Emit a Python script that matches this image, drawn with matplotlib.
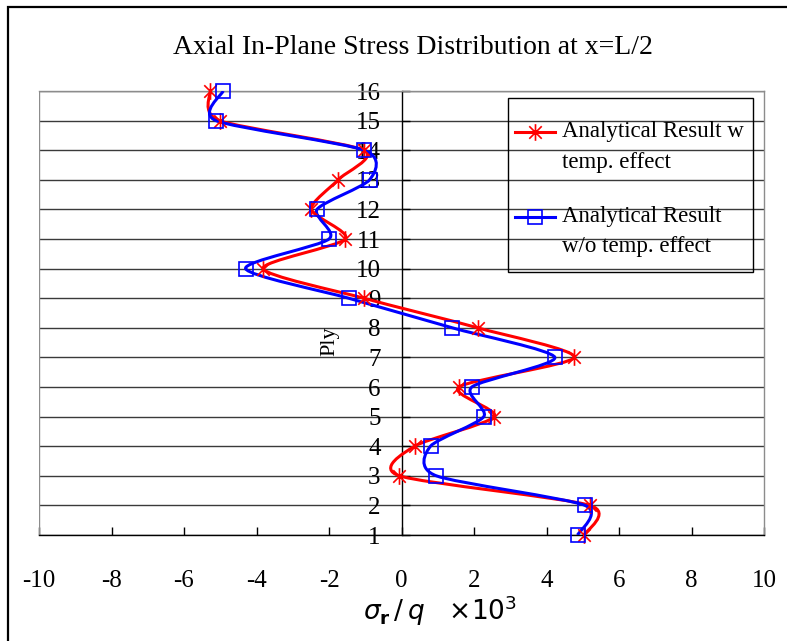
import numpy as np
import matplotlib
matplotlib.use("Agg")
import matplotlib.pyplot as plt
from matplotlib.path import Path
from matplotlib.patches import PathPatch, Rectangle
from matplotlib.lines import Line2D
from matplotlib.legend_handler import HandlerLine2D

plt.rcParams['font.family'] = ['Liberation Serif', 'DejaVu Serif']

# ply number and normalised axial stress sigma_r/q (x10^3)
ply = [16, 15, 14, 13, 12, 11, 10, 9, 8, 7, 6, 5, 4, 3, 2, 1]
with_temp = [-5.28, -5.02, -1.04, -1.75, -2.49, -1.55, -3.82, -1.04,
             2.10, 4.77, 1.58, 2.56, 0.36, -0.06, 5.20, 5.04]
without_temp = [-4.92, -5.12, -1.03, -0.88, -2.33, -2.00, -4.30, -1.46,
                1.40, 4.23, 1.94, 2.27, 0.80, 0.96, 5.06, 4.86]

x_ticks = [-10, -8, -6, -4, -2, 0, 2, 4, 6, 8, 10]
y_ticks = list(range(1, 17))

# asterisk marker: vertical bar plus an X
star = Path([(0, -1), (0, 1), (-0.75, -0.75), (0.75, 0.75), (-0.75, 0.75), (0.75, -0.75)],
            [Path.MOVETO, Path.LINETO, Path.MOVETO, Path.LINETO, Path.MOVETO, Path.LINETO])


def smooth_path(xs, ys, k=8.0):
    # Catmull-Rom style smoothing built from cubic Bezier segments
    p = np.column_stack([xs, ys]).astype(float)
    ext = np.vstack([p[0], p, p[-1]])
    verts = [tuple(p[0])]
    codes = [Path.MOVETO]
    for i in range(len(p) - 1):
        p0, p1, p2, p3 = ext[i], ext[i + 1], ext[i + 2], ext[i + 3]
        c1 = p1 + (p2 - p0) / k
        c2 = p2 - (p3 - p1) / k
        verts += [tuple(c1), tuple(c2), tuple(p2)]
        codes += [Path.CURVE4] * 3
    return Path(verts, codes)


fig = plt.figure(figsize=(7.87, 6.41), dpi=100)
ax = fig.add_axes([39 / 787, 1 - 535 / 641, 725 / 787, 444 / 641])

red = '#FF0000'
blue = '#0000FF'

ax.add_patch(PathPatch(smooth_path(with_temp, ply), fill=False, edgecolor=red, lw=2.2, zorder=3))
ax.plot(with_temp, ply, ls='none', marker=star, ms=12, mec=red, mew=1.2, zorder=5, clip_on=False)
ax.add_patch(PathPatch(smooth_path(without_temp, ply), fill=False, edgecolor=blue, lw=2.2, zorder=4))
ax.plot(without_temp, ply, ls='none', marker='s', ms=9.5, mfc='none', mec=blue, mew=1.2,
        zorder=6, clip_on=False)

ax.set_xlim(-10, 10)
ax.set_ylim(1, 16)

# horizontal gridlines at every ply
for y in y_ticks:
    ax.axhline(y, color='#3a3a3a', lw=1.0, zorder=1)

# y axis sits at x = 0, plot area frame is grey
ax.spines['left'].set_position(('data', 0))
ax.spines['left'].set_color('black')
ax.spines['bottom'].set_color('black')
ax.spines['top'].set_color('#8c8c8c')
ax.spines['right'].set_color('#8c8c8c')
ax.axvline(-10, color='#8c8c8c', lw=1.0, zorder=2)
for s in ax.spines.values():
    s.set_linewidth(1.0)

ax.set_xticks(x_ticks)
ax.set_xticklabels([str(v) for v in x_ticks])
ax.set_yticks(y_ticks)
ax.set_yticklabels([str(v) for v in y_ticks])
ax.tick_params(axis='x', direction='in', length=6, width=1, pad=25, labelsize=18)
ax.tick_params(axis='y', direction='in', length=6, width=1, pad=15, labelsize=18)

ax.text(-1.98, 7.55, 'Ply', rotation=90, fontsize=16, ha='center', va='center')

fig.text(413 / 787, 1 - 47 / 641, 'Axial In-Plane Stress Distribution at x=L/2',
         fontsize=20, ha='center', va='center')
fig.text(440 / 787, 1 - 611 / 641, r'$\sigma_{\mathbf{r}}\,/\,q$   $\times10^3$',
         fontsize=19, ha='center', va='center', family='DejaVu Sans')

h_red = Line2D([], [], color=red, lw=2.2, marker=star, ms=12, mec=red, mew=1.2)
h_blue = Line2D([], [], color=blue, lw=2.2, marker='s', ms=9.5, mfc='none', mec=blue, mew=1.2)


class TopLineHandler(HandlerLine2D):
    # put the sample next to the first text line of a two-line label
    def create_artists(self, legend, orig_handle, xdescent, ydescent, width, height, fontsize, trans):
        arts = super().create_artists(legend, orig_handle, xdescent, ydescent, width, height,
                                      fontsize, trans)
        for a in arts:
            a.set_ydata(np.asarray(a.get_ydata()) + 0.65 * fontsize)
        return arts


# legend frame drawn separately so the padding can differ per side
fig.add_artist(Rectangle((508 / 787, 1 - 272 / 641), 245 / 787, 174 / 641,
                         transform=fig.transFigure, fill=False, edgecolor='black', lw=1.0))
leg = fig.legend([h_red, h_blue],
                 ['Analytical Result w\ntemp. effect', 'Analytical Result\nw/o temp. effect'],
                 loc='upper left', bbox_to_anchor=(515 / 787, 1 - 121 / 641),
                 bbox_transform=fig.transFigure, borderaxespad=0, borderpad=0,
                 fontsize=16.5, frameon=False,
                 handlelength=1.75, handletextpad=0.3, labelspacing=1.45,
                 handler_map={Line2D: TopLineHandler()})
for t in leg.get_texts():
    t.set_linespacing(1.6)

# outer chart border
fig.add_artist(Rectangle((8 / 787, -0.05), 1.1, 1 - 7 / 641 + 0.05, transform=fig.transFigure,
                         fill=False, edgecolor='black', lw=1.6))

fig.savefig('out.png', dpi=100)
